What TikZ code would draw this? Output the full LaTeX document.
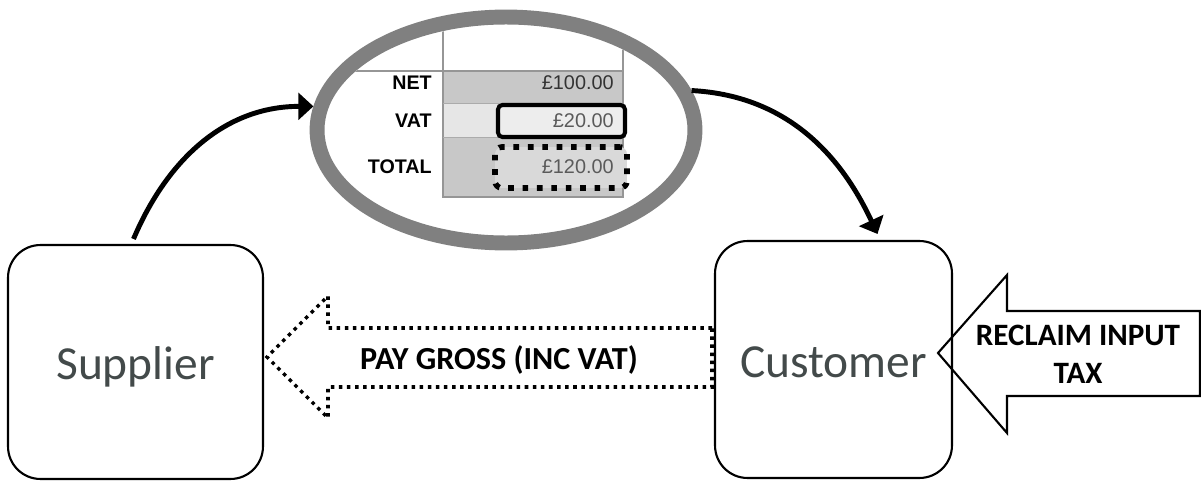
\documentclass[tikz,border=0pt]{standalone}
\usepackage{fontspec}
\setmainfont{Carlito}
\newfontfamily\sheetfont{Liberation Sans}
\usetikzlibrary{shapes.geometric, arrows.meta, calc}

\definecolor{partytext}{RGB}{67,74,74}
\definecolor{ringgray}{RGB}{128,128,128}
\definecolor{cellgray}{RGB}{200,200,200}
\definecolor{celllight}{RGB}{230,230,230}
\definecolor{gridgray}{RGB}{150,150,150}
\definecolor{valuegray}{RGB}{90,90,90}

\tikzset{
  party/.style={draw, line width=1.2pt, rounded corners=0.65cm, inner sep=0pt,
                text height=0.72cm, text depth=0pt,
                text=partytext, font=\fontsize{27}{30}\selectfont},
  flow/.style={line width=2.8pt, -{Triangle[length=8.5pt,width=15pt]}},
  rowname/.style={anchor=east, inner sep=0pt, font=\sheetfont\bfseries\fontsize{11.2}{12}\selectfont},
  rowvalue/.style={anchor=east, inner sep=0pt, font=\sheetfont\fontsize{11.3}{13}\selectfont},
  bigtext/.style={font=\bfseries\fontsize{17.7}{21.6}\selectfont, align=center, inner sep=0pt}
}

\begin{document}
\begin{tikzpicture}[x=0.02cm, y=0.02cm]

            % keep the page the size of the picture
            \useasboundingbox (0,0) rectangle (1201,481);

            % the two parties
            \node[party, minimum width=5.1cm, minimum height=4.68cm] (supplier) at (135.5,119) {Supplier};
            \node[party, minimum width=4.74cm, minimum height=4.74cm] (customer) at (833.5,121.5) {Customer};

            % the invoice ring
            \node[draw=ringgray, line width=8.5pt, ellipse, inner sep=0pt,
                  minimum width=7.56cm, minimum height=4.52cm] (invoice) at (506,351) {};

            % the invoice cells, cut to the inside of the ring
            \begin{scope}
              \clip (506,351) ellipse [x radius=181, y radius=105];
              \fill[cellgray] (443,410) rectangle (623,378);
              \fill[celllight] (443,377) rectangle (623,344);
              \fill[cellgray] (443,343) rectangle (623,285);
              \draw[gridgray, line width=1.4pt] (330,410) -- (623,410);
              \draw[gridgray, line width=1.4pt] (443,490) -- (443,284) -- (623,284) -- (623,490);
              \draw[gridgray!80, line width=1pt] (443,377.5) -- (623,377.5);
              \draw[gridgray!80, line width=1pt] (443,343.5) -- (623,343.5);
            \end{scope}

            % marked vat and total cells
            \node[draw, line width=2.3pt, rounded corners=2.5pt, fill=black!7,
                  minimum width=2.54cm, minimum height=0.64cm] (vatcell) at (561.5,360) {};
            \node[draw, line width=3.2pt, dash pattern=on 3.2pt off 5pt, rounded corners=4pt, fill=black!15,
                  minimum width=2.64cm, minimum height=0.82cm] (totalcell) at (561,313.5) {};

            % row names and values
            \node[rowname] (net) at (432,398) {NET};
            \node[rowname] (vat) at (432,360) {VAT};
            \node[rowname] (total) at (432,314) {TOTAL};
            \node[rowvalue, text=black!80] (netvalue) at (614,398) {£100.00};
            \node[rowvalue, text=valuegray] (vatvalue) at (614,360) {£20.00};
            \node[rowvalue, text=valuegray] (totalvalue) at (614,314) {£120.00};

            % invoice goes out and comes in
            \draw[flow] ($(supplier.north)+(-2,5)$) to[out=67, in=180] (invoice.173);
            \draw[flow] (invoice.12) to[out=-3, in=115] ($(customer.north)+(44,6)$);

            % payment arrow, dotted
            \draw[line width=2pt, dash pattern=on 2pt off 2.6pt]
              (712,153) -- (328,153) -- (328,185) -- (267,124) -- (328,63) -- (328,94) -- (712,94) -- cycle;
            \node[bigtext, font=\bfseries\fontsize{18.3}{21.6}\selectfont] (pay) at (499,121) {PAY GROSS (INC VAT)};

            % reclaim arrow
            \draw[line width=1.2pt]
              (1200,170) -- (1007,170) -- (1007,206) -- (938,128) -- (1007,48) -- (1007,85) -- (1200,85) -- cycle;
            \node[bigtext] (reclaim) at (1078,127) {RECLAIM INPUT\\TAX};

\end{tikzpicture}
\end{document}
